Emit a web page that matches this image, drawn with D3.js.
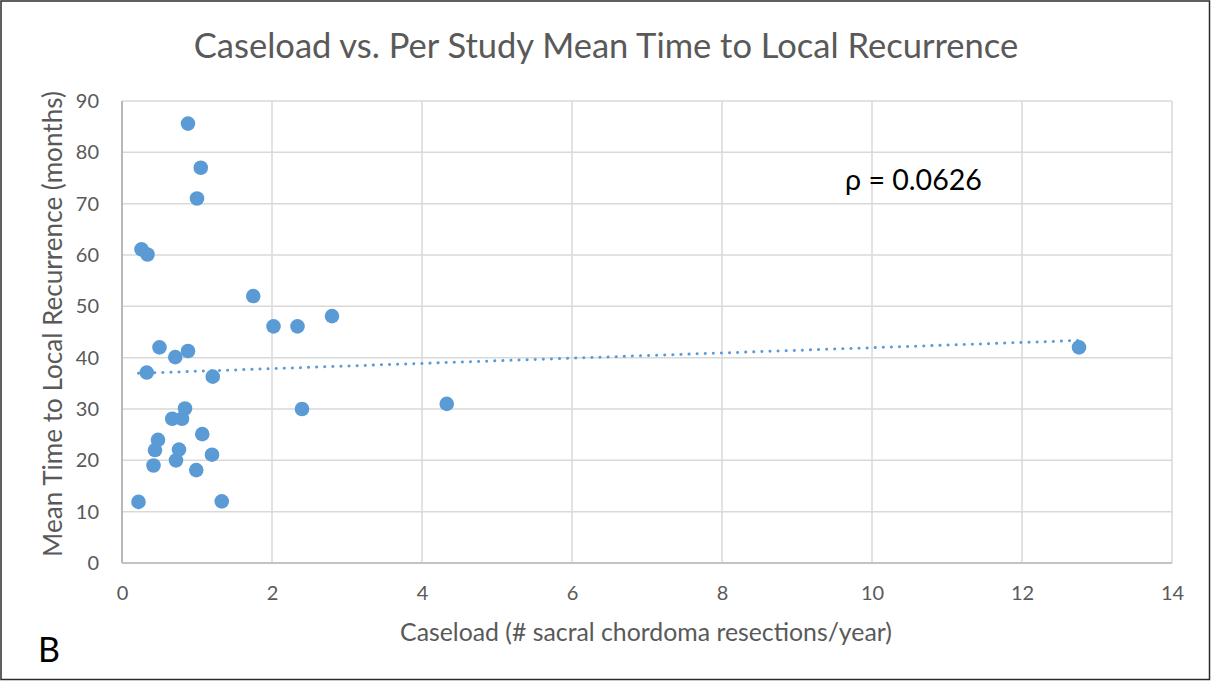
<!DOCTYPE html>
<html><head><meta charset="utf-8">
<script src="https://cdn.jsdelivr.net/npm/d3@7"></script>
<style>body{margin:0;background:#fff}svg{display:block}text{font-family:Lato,"Open Sans",sans-serif}</style>
</head><body><svg id="c" width="1211" height="681"></svg>
<script>
const caseload = [0.88,1.05,1.00,0.26,0.34,1.75,2.02,2.34,2.80,0.50,0.71,0.88,0.33,1.21,0.84,0.67,0.80,1.07,0.48,0.44,0.76,0.72,1.20,0.42,0.99,0.22,1.33,2.40,4.33,12.76];
const meanTime = [85.6,77.0,71.0,61.1,60.1,52.0,46.1,46.1,48.1,42.0,40.1,41.3,37.1,36.3,30.1,28.1,28.1,25.1,24.0,22.0,22.1,20.0,21.1,19.0,18.1,11.9,12.0,30.0,31.0,42.0];
const xTicks = [0,2,4,6,8,10,12,14];
const yTicks = [0,10,20,30,40,50,60,70,80,90];
const titleText = "Caseload vs. Per Study Mean Time to Local Recurrence";
const xTitle = "Caseload (# sacral chordoma resections/year)";
const yTitle = "Mean Time to Local Recurrence (months)";
const rhoText = "\u03C1 = 0.0626";
const panelLabel = "B";

const svg = d3.select("#c");
const W=1211,H=681;
svg.append("rect").attr("x",1).attr("y",1).attr("width",W-2.5).attr("height",H-2.5)
  .attr("fill","#fff").attr("stroke","#2b2b2b").attr("stroke-width",1.5);

const x = d3.scaleLinear().domain([0,14]).range([122,1172]);
const y = d3.scaleLinear().domain([0,90]).range([563,101]);

function fit(sel, target){
  const n=sel.node(); let fs=parseFloat(sel.attr("font-size"));
  const w=n.getComputedTextLength(); sel.attr("font-size",fs*target/w);
}

// gridlines
svg.append("g").selectAll("line").data(yTicks.filter(d=>d>0)).join("line")
  .attr("x1",x(0)).attr("x2",x(14)).attr("y1",d=>y(d)).attr("y2",d=>y(d))
  .attr("stroke","#d9d9d9").attr("stroke-width",1.5);
svg.append("g").selectAll("line").data(xTicks.filter(d=>d>0)).join("line")
  .attr("y1",y(0)).attr("y2",y(90)).attr("x1",d=>x(d)).attr("x2",d=>x(d))
  .attr("stroke","#d9d9d9").attr("stroke-width",1.5);
// axes lines
svg.append("line").attr("x1",x(0)).attr("x2",x(0)).attr("y1",y(0)).attr("y2",y(90))
  .attr("stroke","#b8b8b8").attr("stroke-width",2);
svg.append("line").attr("x1",x(0)).attr("x2",x(14)).attr("y1",y(0)).attr("y2",y(0))
  .attr("stroke","#c4c4c4").attr("stroke-width",1.8);

// axes via d3
const gx = svg.append("g").attr("transform",`translate(0,${y(0)})`)
  .call(d3.axisBottom(x).tickValues(xTicks).tickSize(0).tickPadding(23));
gx.select(".domain").remove();
gx.selectAll("text").attr("font-size",20).attr("fill","#595959").attr("font-family","Lato");
const gy = svg.append("g").attr("transform",`translate(${x(0)},0)`)
  .call(d3.axisLeft(y).tickValues(yTicks).tickSize(0).tickPadding(23));
gy.select(".domain").remove();
gy.selectAll("text").attr("font-size",20).attr("fill","#595959").attr("font-family","Lato");

// trendline (least squares)
const n=caseload.length, mx=d3.mean(caseload), my=d3.mean(meanTime);
let sxy=0,sxx=0; for(let i=0;i<n;i++){sxy+=(caseload[i]-mx)*(meanTime[i]-my);sxx+=(caseload[i]-mx)**2;}
const b=sxy/sxx, a=my-b*mx;
const [x0,x1]=d3.extent(caseload);
svg.append("line").attr("x1",x(x0)).attr("x2",x(x1)).attr("y1",y(a+b*x0)).attr("y2",y(a+b*x1))
  .attr("stroke","#5b9bd5").attr("stroke-width",3).attr("stroke-linecap","round")
  .attr("stroke-dasharray","0.1 8");

// points
svg.append("g").selectAll("circle").data(caseload.map((c,i)=>[c,meanTime[i]])).join("circle")
  .attr("cx",d=>x(d[0])).attr("cy",d=>y(d[1])).attr("r",7.3).attr("fill","#5b9bd5");

// texts
const t=svg.append("text").attr("x",606).attr("y",58).attr("text-anchor","middle")
  .attr("font-size",28).attr("fill","#595959").text(titleText); fit(t,825);
const xt=svg.append("text").attr("x",646).attr("y",641).attr("text-anchor","middle")
  .attr("font-size",20).attr("fill","#595959").text(xTitle); fit(xt,492);
const yt=svg.append("text").attr("transform","translate(62,324) rotate(-90)").attr("text-anchor","middle")
  .attr("font-size",20).attr("fill","#595959").text(yTitle); fit(yt,466);
const r=svg.append("text").attr("x",845).attr("y",190)
  .attr("font-size",26).attr("fill","#000").text(rhoText); fit(r,137);
svg.append("text").attr("x",38).attr("y",662).attr("font-size",34).attr("fill","#000").text(panelLabel);
</script></body></html>
